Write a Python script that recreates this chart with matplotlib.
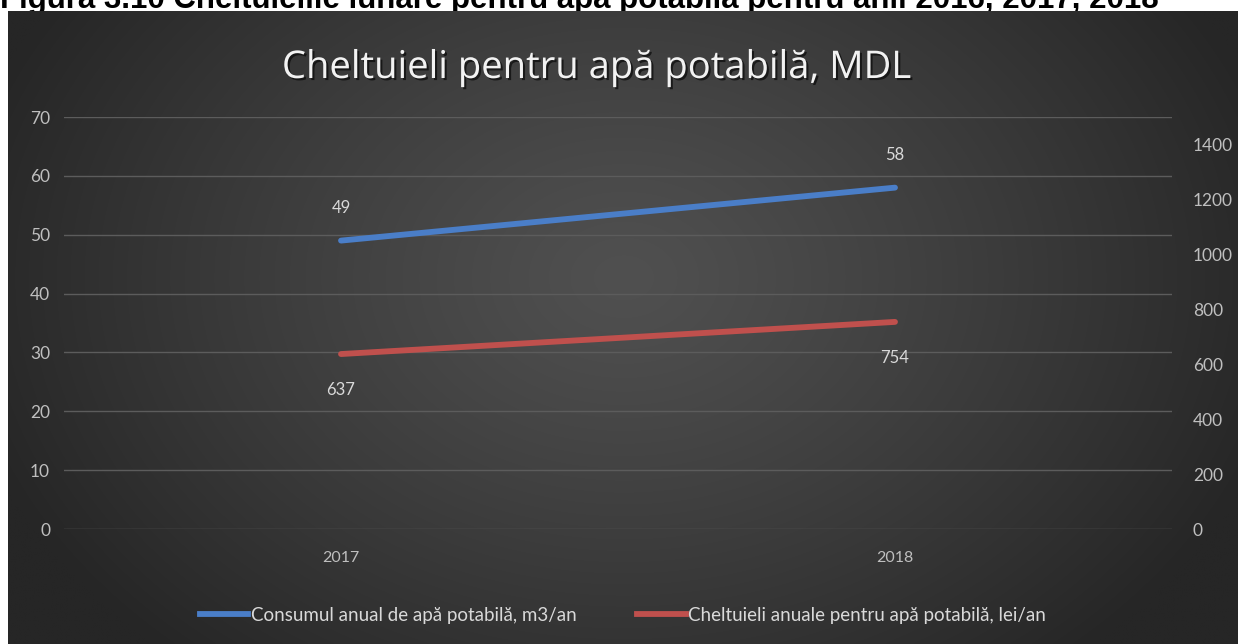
import numpy as np
import matplotlib
matplotlib.use("Agg")
import matplotlib.pyplot as plt
import matplotlib.patheffects as pe
from matplotlib.lines import Line2D

# ---- data ----
years = ["2017", "2018"]
consum = [49, 58]            # m3/an (left axis)
cheltuieli = [637, 754]      # lei/an (right axis)
left_ticks = [0, 10, 20, 30, 40, 50, 60, 70]
right_ticks = [0, 200, 400, 600, 800, 1000, 1200, 1400]
series_names = ["Consumul anual de apă potabilă, m3/an",
                "Cheltuieli anuale pentru apă potabilă, lei/an"]
chart_title = "Cheltuieli pentru apă potabilă, MDL"
fig_caption = "Figura 3.10 Cheltuielile lunare pentru apă potabilă pentru anii 2016, 2017, 2018"

W, H = 1238, 644
fig = plt.figure(figsize=(W / 100, H / 100), dpi=100)
fig.patch.set_facecolor("white")

FONT = ["Lato", "DejaVu Sans"]

# caption (clipped at the top, behind the dark panel)
fig.text(0.0, 1 - 8 / H, fig_caption, fontsize=22.5, fontweight="bold",
         family=["Liberation Sans", "DejaVu Sans"], color="black",
         ha="left", va="baseline", zorder=-5)

# background panel with radial gradient
bg = fig.add_axes([8 / W, 0, 1 - 8 / W, 633 / H], zorder=0)
ny, nx = 300, 600
yy, xx = np.mgrid[0:ny, 0:nx]
cx, cy = nx * 0.5, ny * 0.42
r = np.sqrt(((xx - cx) / (nx * 0.55)) ** 2 + ((yy - cy) / (ny * 0.8)) ** 2)
r = np.clip(r, 0, 1)
light, dark = 0x50 / 255, 0x26 / 255
val = light + (dark - light) * r ** 1.2
img = np.dstack([val, val, val])
bg.imshow(img, aspect="auto", extent=[0, 1, 0, 1], interpolation="bilinear")
bg.set_axis_off()

# main axes
x0, x1 = 64, 1172
ybot, ytop = 529, 117
ax = fig.add_axes([x0 / W, (H - ybot) / H, (x1 - x0) / W, (ybot - ytop) / H], zorder=2)
ax.set_facecolor("none")
ax2 = ax.twinx()
ax2.set_facecolor("none")

xs = np.arange(len(years))
blue = "#4a7ec8"
red = "#c0504d"
ax.plot(xs, consum, color=blue, lw=4.2, solid_capstyle="round", zorder=3)
ax2.plot(xs, cheltuieli, color=red, lw=4.2, solid_capstyle="round", zorder=3)

ax.set_xlim(-0.5, 1.5)
ax.set_ylim(0, 70)
ax2.set_ylim(0, 1500)
ax.set_xticks(xs)
ax.set_xticklabels(years)
ax.set_yticks(left_ticks)
ax2.set_yticks(right_ticks)

for a in (ax, ax2):
    for s in a.spines.values():
        s.set_visible(False)
    a.tick_params(length=0, colors="#bfbfbf", labelsize=12.5)
    for lab in a.get_xticklabels() + a.get_yticklabels():
        lab.set_family(FONT)
ax.tick_params(axis="x", labelsize=11.5, pad=16)
ax.tick_params(axis="y", pad=10)
ax2.tick_params(axis="y", pad=15)
ax.grid(axis="y", color="#5c5c5c", lw=1)
ax.set_axisbelow(True)

# data labels
lab_kw = dict(color="#d9d9d9", fontsize=12, family=FONT, ha="center")
for i, v in enumerate(consum):
    ax.annotate(str(v), (xs[i], v), xytext=(0, 18), textcoords="offset points",
                va="bottom", **lab_kw)
for i, v in enumerate(cheltuieli):
    ax2.annotate(str(v), (xs[i], v), xytext=(0, -20), textcoords="offset points",
                 va="top", **lab_kw)

# title
fig.text(597 / W, 1 - 68 / H, chart_title, fontsize=27.5, family=["Open Sans", "DejaVu Sans"],
         color="#f2f2f2", ha="center", va="center", zorder=5,
         path_effects=[pe.withSimplePatchShadow(offset=(1.5, -1.5),
                                                shadow_rgbFace="black", alpha=0.6)])

# legend
handles = [Line2D([], [], color=blue, lw=4.2), Line2D([], [], color=red, lw=4.2)]
leg = fig.legend(handles, series_names, loc="center", bbox_to_anchor=(623 / W, 1 - 615 / H),
                 ncol=2, frameon=False, handlelength=2.6, handletextpad=0.15,
                 columnspacing=3.2, prop={"family": FONT, "size": 13.5})
for t in leg.get_texts():
    t.set_color("#d9d9d9")

fig.savefig("out.png", dpi=100, facecolor="white")
